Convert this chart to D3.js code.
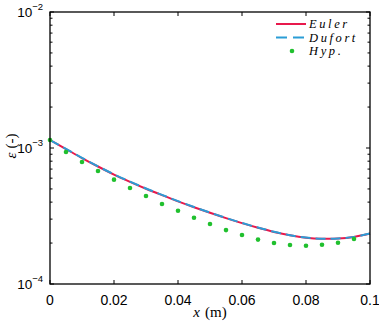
<!DOCTYPE html>
<html>
<head>
<meta charset="utf-8">
<script src="https://cdn.jsdelivr.net/npm/d3@7"></script>
<style>
  body { margin: 0; background: #fff; }
  svg text { fill: #000; }
</style>
</head>
<body>
<svg id="chart" width="379" height="323"></svg>
<script>
// line series sampled along x (m)
var xLine = [0, 0.005, 0.01, 0.015, 0.02, 0.025, 0.03, 0.035, 0.04, 0.045, 0.05,
  0.055, 0.06, 0.065, 0.07, 0.075, 0.08, 0.085, 0.09, 0.095, 0.1];
var euler = [1.145e-3, 0.983e-3, 0.844e-3, 0.731e-3, 0.638e-3, 0.564e-3, 0.502e-3, 0.4504e-3,
  0.4055e-3, 0.3671e-3, 0.3339e-3, 0.3051e-3, 0.2804e-3, 0.2594e-3, 0.2415e-3, 0.2281e-3,
  0.2190e-3, 0.2150e-3, 0.2158e-3, 0.2220e-3, 0.2350e-3];
var dufort = [1.145e-3, 0.985e-3, 0.846e-3, 0.733e-3, 0.640e-3, 0.566e-3, 0.504e-3, 0.452e-3,
  0.4068e-3, 0.3682e-3, 0.3348e-3, 0.3060e-3, 0.2812e-3, 0.2601e-3, 0.2421e-3, 0.2286e-3,
  0.2194e-3, 0.2153e-3, 0.2160e-3, 0.2221e-3, 0.2350e-3];
// hyperbolic model points
var xHyp = [0, 0.005, 0.01, 0.015, 0.02, 0.025, 0.03, 0.035, 0.04, 0.045, 0.05,
  0.055, 0.06, 0.065, 0.07, 0.075, 0.08, 0.085, 0.09, 0.095];
var hyp = [1.145e-3, 0.935e-3, 0.789e-3, 0.678e-3, 0.585e-3, 0.508e-3, 0.444e-3, 0.387e-3,
  0.346e-3, 0.307e-3, 0.276e-3, 0.249e-3, 0.229e-3, 0.212e-3, 0.200e-3, 0.1935e-3,
  0.191e-3, 0.1946e-3, 0.201e-3, 0.214e-3];

var xTicks = [0, 0.02, 0.04, 0.06, 0.08, 0.1];
var xTickLabels = ["0", "0.02", "0.04", "0.06", "0.08", "0.1"];
var yExps = [-4, -3, -2];
var legendNames = ["Euler", "Dufort", "Hyp."];

var red = "#e8194c", blue = "#2b9dd6", green = "#20c02e";
var sans = "Liberation Sans";

var margin = {top: 12, right: 9, bottom: 39, left: 50},
    width = 379 - margin.left - margin.right,
    height = 323 - margin.top - margin.bottom;

var svg = d3.select("#chart");
var g = svg.append("g").attr("transform", "translate(" + margin.left + "," + margin.top + ")");

var x = d3.scaleLinear().domain([0, 0.1]).range([0, width]);
var y = d3.scaleLog().domain([1e-4, 1e-2]).range([height, 0]);

// curves
var line = d3.line()
  .x(function(d) { return x(d[0]); })
  .y(function(d) { return y(d[1]); })
  .curve(d3.curveCatmullRom);

g.append("path")
  .datum(xLine.map(function(v, i) { return [v, euler[i]]; }))
  .attr("d", line)
  .attr("fill", "none")
  .attr("stroke", red)
  .attr("stroke-width", 2);

g.append("path")
  .datum(xLine.map(function(v, i) { return [v, dufort[i]]; }))
  .attr("d", line)
  .attr("fill", "none")
  .attr("stroke", blue)
  .attr("stroke-width", 2)
  .attr("stroke-dasharray", "10,5");

g.selectAll(".hyp")
  .data(xHyp.map(function(v, i) { return [v, hyp[i]]; }))
  .enter().append("circle")
  .attr("class", "hyp")
  .attr("cx", function(d) { return x(d[0]); })
  .attr("cy", function(d) { return y(d[1]); })
  .attr("r", 2.3)
  .attr("fill", green);

// ticks inside the box
var minor = [];
[-4, -3].forEach(function(e) {
  for (var k = 2; k <= 9; k++) minor.push(k * Math.pow(10, e));
});

var tk = g.append("g").attr("stroke", "#000").attr("stroke-width", 1);
xTicks.forEach(function(t) {
  tk.append("line").attr("x1", x(t)).attr("x2", x(t)).attr("y1", height).attr("y2", height - 4);
  tk.append("line").attr("x1", x(t)).attr("x2", x(t)).attr("y1", 0).attr("y2", 4);
});
yExps.forEach(function(e) {
  var v = Math.pow(10, e);
  tk.append("line").attr("x1", 0).attr("x2", 4).attr("y1", y(v)).attr("y2", y(v));
  tk.append("line").attr("x1", width).attr("x2", width - 4).attr("y1", y(v)).attr("y2", y(v));
});
minor.forEach(function(v) {
  tk.append("line").attr("x1", 0).attr("x2", 2.5).attr("y1", y(v)).attr("y2", y(v));
  tk.append("line").attr("x1", width).attr("x2", width - 2.5).attr("y1", y(v)).attr("y2", y(v));
});

// box
g.append("rect")
  .attr("width", width)
  .attr("height", height)
  .attr("fill", "none")
  .attr("stroke", "#000")
  .attr("stroke-width", 1.3);

// x tick labels
g.selectAll(".xl")
  .data(xTicks)
  .enter().append("text")
  .attr("class", "xl")
  .attr("x", function(d) { return x(d); })
  .attr("y", height + 21)
  .attr("text-anchor", "middle")
  .attr("font-family", sans)
  .attr("font-size", 14)
  .text(function(d, i) { return xTickLabels[i]; });

// y tick labels 10^n
yExps.forEach(function(e) {
  var t = g.append("text")
    .attr("x", -7)
    .attr("y", y(Math.pow(10, e)) + 5)
    .attr("text-anchor", "end")
    .attr("font-family", sans)
    .attr("font-size", 13.5);
  t.append("tspan").text("10");
  t.append("tspan").attr("font-size", 9.5).attr("dy", -7).text("\u2212" + Math.abs(e));
});

// axis labels
var xl = svg.append("text")
  .attr("x", margin.left + width / 2)
  .attr("y", 317)
  .attr("text-anchor", "middle")
  .attr("font-family", "Liberation Serif, serif")
  .attr("font-size", 15);
xl.append("tspan").attr("font-style", "italic").text("x");
xl.append("tspan").attr("dx", 5).text("(m)");

var yl = svg.append("text")
  .attr("transform", "translate(16," + (margin.top + height / 2 - 2) + ") rotate(-90)")
  .attr("text-anchor", "middle")
  .attr("font-family", "Liberation Serif, serif")
  .attr("font-size", 15);
yl.append("tspan").attr("font-style", "italic").text("\u03b5");
yl.append("tspan").attr("dx", 4).text("(-)");

// legend
var leg = svg.append("g");
var legY = [24, 37.5, 51];
leg.append("line").attr("x1", 276).attr("x2", 306).attr("y1", legY[0]).attr("y2", legY[0])
  .attr("stroke", red).attr("stroke-width", 2);
leg.append("line").attr("x1", 276).attr("x2", 306).attr("y1", legY[1]).attr("y2", legY[1])
  .attr("stroke", blue).attr("stroke-width", 2).attr("stroke-dasharray", "11,6");
leg.append("circle").attr("cx", 292).attr("cy", legY[2]).attr("r", 2.3).attr("fill", green);
legendNames.forEach(function(n, i) {
  leg.append("text")
    .attr("x", 309)
    .attr("y", legY[i] + 4)
    .attr("font-family", "Liberation Serif, serif")
    .attr("font-style", "italic")
    .attr("font-size", 12.5)
    .attr("letter-spacing", 2.6)
    .text(n);
});
</script>
</body>
</html>
